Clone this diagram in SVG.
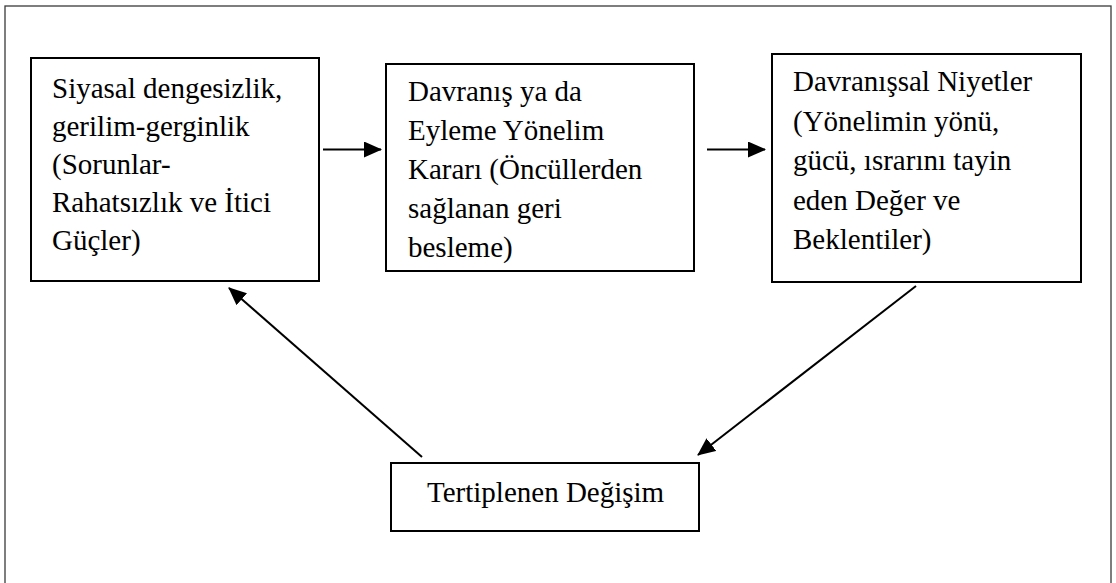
<svg xmlns="http://www.w3.org/2000/svg" width="1116" height="583" viewBox="0 0 1116 583">
  <style>
    .frame { fill: none; stroke: #3a3a3a; stroke-width: 1.3; }
    .box { fill: #ffffff; stroke: #000000; stroke-width: 2; }
    .label { font-family: "Liberation Serif", "Times New Roman", serif; font-size: 29px; fill: #000000; }
    .edge { stroke: #000000; stroke-width: 2; fill: none; marker-end: url(#arrow); }
  </style>
  <defs>
    <marker id="arrow" markerWidth="9" markerHeight="8" refX="8.5" refY="4" orient="auto" markerUnits="strokeWidth">
      <path d="M0,0 L9,4 L0,8 Z" fill="#000000"/>
    </marker>
  </defs>

  <rect width="1116" height="583" fill="#ffffff"/>
  <!-- outer frame, open at the bottom edge -->
  <rect class="frame" x="5" y="6" width="1106" height="620"/>

  <g id="connectors">
    <line class="edge" x1="323" y1="149.5" x2="381" y2="149.5"/>
    <line class="edge" x1="707" y1="149.5" x2="765" y2="149.5"/>
    <line class="edge" x1="916" y1="286" x2="698" y2="455"/>
    <line class="edge" x1="422" y1="457" x2="229" y2="288"/>
  </g>

  <g id="node-tension">
    <rect class="box" x="31" y="58" width="288" height="223"/>
    <text class="label" x="52">
      <tspan x="52" y="98">Siyasal dengesizlik,</tspan>
      <tspan x="52" y="136">gerilim-gerginlik</tspan>
      <tspan x="52" y="174">(Sorunlar-</tspan>
      <tspan x="52" y="212">Rahatsızlık ve İtici</tspan>
      <tspan x="52" y="250">Güçler)</tspan>
    </text>
  </g>

  <g id="node-decision">
    <rect class="box" x="386" y="64" width="308" height="207"/>
    <text class="label">
      <tspan x="408" y="101">Davranış ya da</tspan>
      <tspan x="408" y="140">Eyleme Yönelim</tspan>
      <tspan x="408" y="179">Kararı (Öncüllerden</tspan>
      <tspan x="408" y="218">sağlanan geri</tspan>
      <tspan x="408" y="257">besleme)</tspan>
    </text>
  </g>

  <g id="node-intentions">
    <rect class="box" x="772" y="54" width="309" height="228"/>
    <text class="label">
      <tspan x="793" y="91">Davranışsal Niyetler</tspan>
      <tspan x="793" y="130.5">(Yönelimin yönü,</tspan>
      <tspan x="793" y="170">gücü, ısrarını tayin</tspan>
      <tspan x="793" y="209.5">eden Değer ve</tspan>
      <tspan x="793" y="249">Beklentiler)</tspan>
    </text>
  </g>

  <g id="node-change">
    <rect class="box" x="391" y="463" width="308" height="68"/>
    <text class="label" x="427" y="502">Tertiplenen Değişim</text>
  </g>
</svg>
